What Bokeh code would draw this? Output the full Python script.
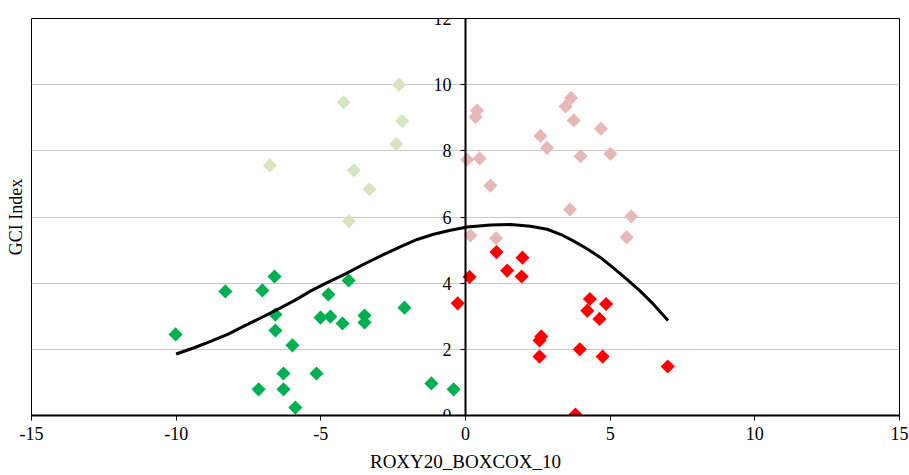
from bokeh.plotting import figure
from bokeh.models import LinearAxis, FixedTicker, Range1d
from bokeh.embed import file_html
from bokeh.resources import INLINE
import math

# ---- data ----
green_x = [-10.02, -8.3, -7.02, -6.6, -6.57, -6.57, -5.98, -6.29, -7.15, -6.29, -5.88,
           -5.15, -5.01, -4.74, -4.67, -4.25, -4.04, -3.49, -3.49, -2.11, -1.18, -0.41]
green_y = [2.45, 3.75, 3.78, 4.2, 3.05, 2.57, 2.12, 1.27, 0.79, 0.79, 0.24,
           1.27, 2.96, 3.66, 2.99, 2.78, 4.08, 3.02, 2.81, 3.26, 0.97, 0.79]

lgreen_x = [-2.3, -4.21, -2.19, -2.39, -6.76, -3.86, -3.32, -4.03]
lgreen_y = [10.0, 9.47, 8.9, 8.21, 7.56, 7.41, 6.84, 5.87]

pink_x = [0.4, 0.35, 0.06, 0.49, 0.86, 2.59, 2.82, 3.46, 3.65, 3.74, 3.98, 4.68, 5.01,
          3.61, 5.73, 0.17, 1.06, 5.57]
pink_y = [9.22, 9.02, 7.73, 7.77, 6.95, 8.45, 8.09, 9.34, 9.6, 8.92, 7.84, 8.67, 7.91,
          6.23, 6.02, 5.44, 5.36, 5.39]

red_x = [0.14, -0.27, 1.07, 1.44, 1.97, 1.94, 2.62, 2.56, 2.56, 3.95, 3.8, 4.3, 4.21,
         4.86, 4.63, 4.74, 6.99]
red_y = [4.19, 3.39, 4.94, 4.38, 4.77, 4.2, 2.39, 2.27, 1.78, 2.0, 0.03, 3.52, 3.17,
         3.37, 2.92, 1.78, 1.48]

curve_x = [-10.0, -9.4, -8.81, -8.2, -7.66, -7.1, -6.51, -5.9, -5.36, -4.8, -4.2, -3.5,
           -2.82, -2.2, -1.67, -1.1, -0.52, 0.06, 0.86, 1.56, 2.25, 2.82, 3.3, 3.74,
           4.2, 4.67, 5.1, 5.59, 6.05, 6.51, 7.0]
curve_y = [1.86, 2.04, 2.24, 2.46, 2.70, 2.94, 3.2, 3.48, 3.76, 4.01, 4.26, 4.58,
           4.87, 5.12, 5.32, 5.48, 5.6, 5.7, 5.76, 5.77, 5.72, 5.63, 5.47, 5.27,
           5.04, 4.77, 4.47, 4.11, 3.75, 3.35, 2.87]

x_ticks = [-15, -10, -5, 0, 5, 10, 15]
x_tick_labels = ["-15", "-10", "-5", "0", "5", "10", "15"]
y_ticks = [0, 2, 4, 6, 8, 10, 12]
x_title = "ROXY20_BOXCOX_10"
y_title = "GCI Index"

FONT = "Liberation Serif"

p = figure(width=909, height=475, x_range=Range1d(-15, 15), y_range=Range1d(0, 12),
           output_backend="svg", toolbar_location=None,
           min_border_left=31, min_border_right=10, min_border_top=18, min_border_bottom=60)
p.background_fill_color = "white"
p.border_fill_color = "white"
p.outline_line_color = "black"
p.outline_line_width = 1

# grid
p.xgrid.visible = False
p.ygrid.ticker = FixedTicker(ticks=y_ticks[1:])
p.ygrid.grid_line_color = "#c8c8c8"
p.ygrid.grid_line_width = 1

# bottom x axis
xa = p.xaxis[0]
xa.ticker = FixedTicker(ticks=x_ticks)
xa.major_label_overrides = {t: s for t, s in zip(x_ticks, x_tick_labels)}
xa.axis_line_color = "black"
xa.axis_line_width = 2
xa.major_tick_line_color = "black"
xa.major_tick_out = 5
xa.major_tick_in = 0
xa.minor_tick_line_color = None
xa.major_label_text_font = FONT
xa.major_label_text_font_size = "18px"
xa.major_label_text_color = "black"
xa.major_label_standoff = 6
xa.axis_label = x_title
xa.axis_label_text_font = FONT
xa.axis_label_text_font_size = "19px"
xa.axis_label_text_font_style = "normal"
xa.axis_label_text_color = "black"
xa.axis_label_standoff = 8

# left axis used only for the title
ya = p.yaxis[0]
ya.ticker = FixedTicker(ticks=[])
ya.axis_line_color = None
ya.major_tick_line_color = None
ya.minor_tick_line_color = None
ya.major_tick_out = 0
ya.minor_tick_out = 0
ya.major_label_text_font_size = "0px"
ya.axis_label = y_title
ya.axis_label_text_font = FONT
ya.axis_label_text_font_size = "18px"
ya.axis_label_text_font_style = "normal"
ya.axis_label_text_color = "black"
ya.axis_label_standoff = 6

# y axis crossing at x = 0
ya0 = LinearAxis(fixed_location=0, ticker=FixedTicker(ticks=y_ticks))
ya0.axis_line_color = "black"
ya0.axis_line_width = 2
ya0.major_tick_line_color = "black"
ya0.major_tick_out = 5
ya0.major_tick_in = 0
ya0.minor_tick_line_color = None
ya0.major_label_text_font = FONT
ya0.major_label_text_font_size = "18px"
ya0.major_label_text_color = "black"
ya0.major_label_standoff = 9
p.add_layout(ya0, "left")

ang = math.pi / 4
p.scatter(lgreen_x, lgreen_y, marker="square", size=10, angle=ang,
          fill_color="#d7e4bd", line_color=None)
p.scatter(pink_x, pink_y, marker="square", size=10, angle=ang,
          fill_color="#e6b9b8", line_color=None)
p.scatter(green_x, green_y, marker="square", size=10, angle=ang,
          fill_color="#00b050", line_color=None)
p.scatter(red_x, red_y, marker="square", size=10, angle=ang,
          fill_color="#ff0000", line_color=None)

p.line(curve_x, curve_y, line_color="black", line_width=3)

open("out.html", "w").write(file_html(p, INLINE))
